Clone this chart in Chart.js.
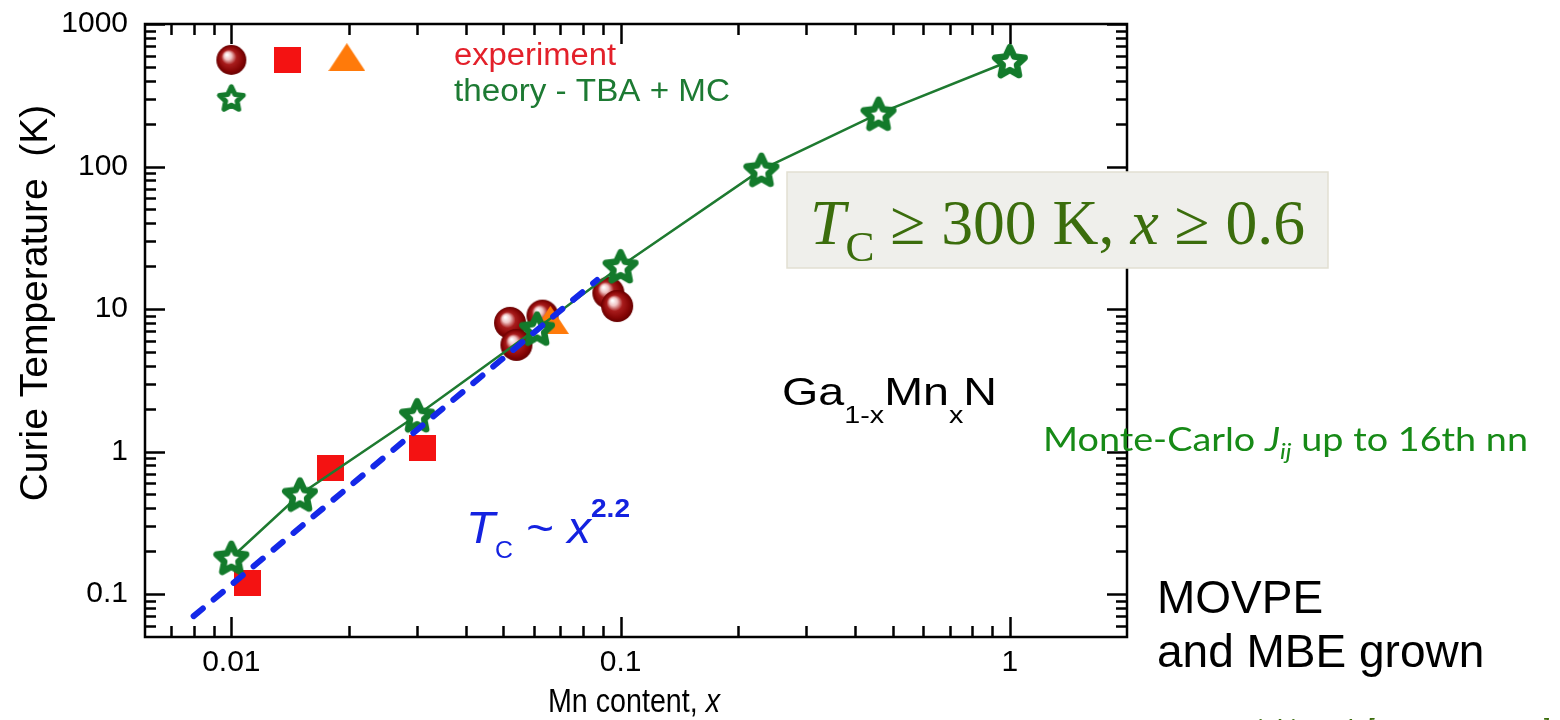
<!DOCTYPE html>
<html>
<head>
<meta charset="utf-8">
<script src="https://cdn.jsdelivr.net/npm/chart.js@4.4.0/dist/chart.umd.min.js"></script>
<style>
  html, body { margin: 0; padding: 0; background: #fff; }
  #wrap { position: relative; width: 1560px; height: 720px; }
</style>
</head>
<body>
<div id="wrap"><canvas id="tcChart" width="1560" height="720"></canvas></div>
<script>
// theory - TBA + MC : Mn content x, Curie temperature (K)
const theoryX = [0.01, 0.015, 0.03, 0.061, 0.1, 0.23, 0.46, 1.0];
const theoryY = [0.18, 0.5, 1.8, 7.3, 20, 95, 235, 550];

// experiment - squares
const squareX = [0.011, 0.018, 0.031];
const squareY = [0.12, 0.77, 1.06];

// experiment - spheres
const sphereX = [0.052, 0.054, 0.063, 0.093, 0.098];
const sphereY = [8.0, 5.6, 9.0, 13.0, 10.5];

// experiment - triangle
const triangleX = [0.066];
const triangleY = [8.4];

// Tc ~ x^2.2 guide (end points)
const fitX = [0.008, 0.087];
const fitY = [0.07, 16];

// legend symbols sit inside the plot, in data units
const legendSphere = [0.01, 560];
const legendSquare = [0.0139, 560];
const legendTriangle = [0.0198, 585];
const legendStar = [0.01, 303];

// axes
const xTickValues = [0.01, 0.1, 1];
const xTickLabels = ['0.01', '0.1', '1'];
const yTickValues = [0.1, 1, 10, 100, 1000];
const yTickLabels = ['0.1', '1', '10', '100', '1000'];

document.addEventListener('DOMContentLoaded', function() {
    const SANS = "'Liberation Sans', Arial, sans-serif";
    const SERIF = "'Liberation Serif', 'Times New Roman', serif";

    function pts(xs, ys) {
        return xs.map((x, i) => ({ x: x, y: ys[i] }));
    }

    // marker images
    function makeSphere(r) {
        const c = document.createElement('canvas');
        c.width = c.height = 2 * r + 2;
        const g = c.getContext('2d');
        const m = r + 1;
        const grad = g.createRadialGradient(m - r * 0.3, m - r * 0.35, r * 0.04, m, m, r);
        grad.addColorStop(0, '#ffffff');
        grad.addColorStop(0.22, '#f0c4c4');
        grad.addColorStop(0.48, '#a81c1c');
        grad.addColorStop(0.8, '#870606');
        grad.addColorStop(1, '#660000');
        g.fillStyle = grad;
        g.beginPath();
        g.arc(m, m, r, 0, Math.PI * 2);
        g.fill();
        return c;
    }

    function makeStar(R, lw) {
        const size = Math.ceil(2 * R + lw + 4);
        const c = document.createElement('canvas');
        c.width = c.height = size;
        const g = c.getContext('2d');
        const cx = size / 2, cy = size / 2 + R * 0.1;
        g.beginPath();
        for (let i = 0; i < 10; i++) {
            const a = -Math.PI / 2 + i * Math.PI / 5;
            const rr = i % 2 ? R * 0.48 : R;
            g.lineTo(cx + rr * Math.cos(a), cy + rr * Math.sin(a));
        }
        g.closePath();
        g.fillStyle = '#ffffff';
        g.fill();
        g.lineWidth = lw;
        g.lineJoin = 'round';
        g.strokeStyle = '#137a2b';
        g.stroke();
        return c;
    }

    function makeSquare(w, h) {
        const c = document.createElement('canvas');
        c.width = w; c.height = h;
        const g = c.getContext('2d');
        g.fillStyle = '#f41212';
        g.fillRect(0, 0, w, h);
        return c;
    }

    function makeTriangle(w, h) {
        const c = document.createElement('canvas');
        c.width = w; c.height = h;
        const g = c.getContext('2d');
        g.fillStyle = '#ff7a0a';
        g.beginPath();
        g.moveTo(w / 2, 0);
        g.lineTo(w, h);
        g.lineTo(0, h);
        g.closePath();
        g.fill();
        return c;
    }

    const starImg = makeStar(15.5, 6.5);
    const starLegendImg = makeStar(12.5, 5);
    const sphereImg = makeSphere(16);
    const legendSphereImg = makeSphere(15);
    const squareImg = makeSquare(27, 26);
    const triangleImg = makeTriangle(37, 28);

    // rich text: parts drawn left to right, optionally squeezed to a target width
    function drawRich(ctx, parts, x, y, targetW) {
        let w = 0;
        parts.forEach(p => { ctx.font = p.font; w += ctx.measureText(p.t).width; });
        const sx = targetW ? targetW / w : 1;
        ctx.save();
        ctx.translate(x, y);
        ctx.scale(sx, 1);
        ctx.textBaseline = 'alphabetic';
        ctx.textAlign = 'left';
        let cx = 0;
        parts.forEach(p => {
            ctx.font = p.font;
            ctx.fillStyle = p.color;
            ctx.fillText(p.t, cx, p.dy || 0);
            cx += ctx.measureText(p.t).width;
        });
        ctx.restore();
    }

    function minorValues(min, max, majors) {
        const out = [];
        for (let e = -4; e <= 4; e++) {
            for (let k = 2; k <= 9; k++) {
                const v = k * Math.pow(10, e);
                if (v > min * 1.0001 && v < max * 0.9999 && majors.indexOf(v) < 0) out.push(v);
            }
        }
        return out;
    }

    const frameAndNotes = {
        id: 'frameAndNotes',
        afterDraw(chart) {
            const ctx = chart.ctx;
            const a = chart.chartArea;
            const xs = chart.scales.x, ys = chart.scales.y;
            const MAJ = 20, MIN = 11;

            ctx.save();
            ctx.strokeStyle = '#000';
            ctx.lineWidth = 2.5;
            ctx.lineCap = 'butt';
            ctx.beginPath();
            // inward ticks on all four sides
            const xMinor = minorValues(xs.min, xs.max, xTickValues);
            const yMinor = minorValues(ys.min, ys.max, yTickValues);
            xTickValues.concat(xMinor).forEach(v => {
                const len = xTickValues.indexOf(v) >= 0 ? MAJ : MIN;
                const px = Math.round(xs.getPixelForValue(v)) + 0.5;
                ctx.moveTo(px, a.bottom); ctx.lineTo(px, a.bottom - len);
                ctx.moveTo(px, a.top); ctx.lineTo(px, a.top + len);
            });
            yTickValues.concat(yMinor).forEach(v => {
                const len = yTickValues.indexOf(v) >= 0 ? MAJ : MIN;
                const py = Math.round(ys.getPixelForValue(v)) + 0.5;
                ctx.moveTo(a.left, py); ctx.lineTo(a.left + len, py);
                ctx.moveTo(a.right, py); ctx.lineTo(a.right - len, py);
            });
            ctx.stroke();
            ctx.strokeRect(a.left, a.top, a.right - a.left, a.bottom - a.top);
            ctx.restore();

            // y axis title
            ctx.save();
            ctx.translate(36, 303);
            ctx.rotate(-Math.PI / 2);
            ctx.font = '39px ' + SANS;
            ctx.fillStyle = '#000';
            ctx.textAlign = 'center';
            ctx.textBaseline = 'middle';
            ctx.fillText('Curie Temperature  (K)', 0, 0);
            ctx.restore();

            // legend text
            drawRich(ctx, [{ t: 'experiment', font: '31px ' + SANS, color: '#e3202a' }], 454, 65, 162);
            drawRich(ctx, [{ t: 'theory - TBA + MC', font: '31px ' + SANS, color: '#1d7a33' }], 454, 101, 276);

            // Ga(1-x)Mn(x)N
            drawRich(ctx, [
                { t: 'Ga', font: '39px ' + SANS, color: '#000' },
                { t: '1-x', font: '24px ' + SANS, color: '#000', dy: 18 },
                { t: 'Mn', font: '39px ' + SANS, color: '#000' },
                { t: 'x', font: '24px ' + SANS, color: '#000', dy: 18 },
                { t: 'N', font: '39px ' + SANS, color: '#000' }
            ], 782, 405, 215);

            // Tc ~ x^2.2
            drawRich(ctx, [
                { t: 'T', font: 'italic 44px ' + SANS, color: '#1422e0' },
                { t: 'C', font: '23px ' + SANS, color: '#1422e0', dy: 15 },
                { t: ' ~ ', font: '44px ' + SANS, color: '#1422e0' },
                { t: 'x', font: 'italic 44px ' + SANS, color: '#1422e0' },
                { t: '2.2', font: 'bold 26px ' + SANS, color: '#1422e0', dy: -26 }
            ], 466, 543, 164);

            // x axis title
            drawRich(ctx, [
                { t: 'Mn content, ', font: '34px ' + SANS, color: '#000' },
                { t: 'x', font: 'italic 34px ' + SANS, color: '#000' }
            ], 548, 712, 172);

            // highlighted box
            ctx.save();
            ctx.fillStyle = '#efefeb';
            ctx.strokeStyle = '#e2dfd2';
            ctx.lineWidth = 1.5;
            ctx.fillRect(787, 172, 541, 96);
            ctx.strokeRect(787, 172, 541, 96);
            ctx.restore();
            const olive = '#3b6d0c';
            drawRich(ctx, [
                { t: 'T', font: 'italic 63px ' + SERIF, color: olive },
                { t: 'C', font: '43px ' + SERIF, color: olive, dy: 17 },
                { t: ' \u2265 300 K, ', font: '63px ' + SERIF, color: olive },
                { t: 'x', font: 'italic 63px ' + SERIF, color: olive },
                { t: ' \u2265 0.6', font: '63px ' + SERIF, color: olive }
            ], 810, 244, 495);

            // slide notes
            drawRich(ctx, [
                { t: 'Monte-Carlo ', font: '33px Lato, sans-serif', color: '#178a17' },
                { t: 'J', font: 'italic 33px Lato, sans-serif', color: '#178a17' },
                { t: 'ij', font: 'italic 22px Lato, sans-serif', color: '#178a17', dy: 8 },
                { t: ' up to 16th nn', font: '33px Lato, sans-serif', color: '#178a17' }
            ], 1043, 451, 485);

            drawRich(ctx, [{ t: 'MOVPE', font: '46px ' + SANS, color: '#000' }], 1157, 613);
            drawRich(ctx, [{ t: 'and MBE grown', font: '46px ' + SANS, color: '#000' }], 1157, 667);
            drawRich(ctx, [{ t: 'M. Sawicki et al. [Warsaw group]', font: 'italic 30px Lato, sans-serif', color: '#3b6d0c' }], 1170, 742, 380);
        }
    };

    const ctx = document.getElementById('tcChart').getContext('2d');

    new Chart(ctx, {
        type: 'scatter',
        data: {
            datasets: [
                {
                    label: 'Tc ~ x^2.2',
                    data: pts(fitX, fitY),
                    showLine: true,
                    borderColor: '#1428e8',
                    borderWidth: 6,
                    borderDash: [12, 14],
                    borderCapStyle: 'round',
                    pointRadius: 0,
                    order: 0
                },
                {
                    label: 'theory - TBA + MC',
                    data: pts(theoryX, theoryY),
                    showLine: true,
                    borderColor: '#1e7a30',
                    borderWidth: 2.5,
                    pointStyle: starImg,
                    pointRadius: 16,
                    order: 1
                },
                {
                    label: 'experiment triangle',
                    data: pts(triangleX, triangleY),
                    pointStyle: triangleImg,
                    pointRadius: 15,
                    order: 2
                },
                {
                    label: 'experiment spheres',
                    data: pts(sphereX, sphereY),
                    pointStyle: sphereImg,
                    pointRadius: 16,
                    order: 3
                },
                {
                    label: 'experiment squares',
                    data: pts(squareX, squareY),
                    pointStyle: squareImg,
                    pointRadius: 13,
                    order: 4
                },
                {
                    label: 'legend sphere',
                    data: [{ x: legendSphere[0], y: legendSphere[1] }],
                    pointStyle: legendSphereImg,
                    order: 5
                },
                {
                    label: 'legend square',
                    data: [{ x: legendSquare[0], y: legendSquare[1] }],
                    pointStyle: squareImg,
                    order: 5
                },
                {
                    label: 'legend triangle',
                    data: [{ x: legendTriangle[0], y: legendTriangle[1] }],
                    pointStyle: triangleImg,
                    order: 5
                },
                {
                    label: 'legend star',
                    data: [{ x: legendStar[0], y: legendStar[1] }],
                    pointStyle: starLegendImg,
                    order: 5
                }
            ]
        },
        options: {
            responsive: false,
            animation: false,
            clip: false,
            layout: {
                padding: { left: 0, top: 24, right: 433, bottom: 0 }
            },
            plugins: {
                legend: { display: false },
                tooltip: { enabled: false }
            },
            scales: {
                x: {
                    type: 'logarithmic',
                    min: 0.006,
                    max: 2,
                    afterBuildTicks: function(scale) {
                        scale.ticks = xTickValues.map(v => ({ value: v }));
                    },
                    afterFit: function(scale) {
                        scale.height = 83;
                        scale.paddingLeft = 0;
                        scale.paddingRight = 0;
                    },
                    grid: { display: false, drawTicks: false },
                    border: { display: false },
                    ticks: {
                        autoSkip: false,
                        maxRotation: 0,
                        padding: 8,
                        color: '#000',
                        font: { size: 30, family: SANS },
                        callback: function(value, index) {
                            return xTickLabels[index];
                        }
                    }
                },
                y: {
                    type: 'logarithmic',
                    min: 0.05,
                    max: 1000,
                    afterBuildTicks: function(scale) {
                        scale.ticks = yTickValues.map(v => ({ value: v }));
                    },
                    afterFit: function(scale) {
                        scale.width = 145;
                        scale.paddingTop = 0;
                        scale.paddingBottom = 0;
                    },
                    grid: { display: false, drawTicks: false },
                    border: { display: false },
                    ticks: {
                        autoSkip: false,
                        padding: 17,
                        color: '#000',
                        font: { size: 30, family: SANS },
                        callback: function(value, index) {
                            return yTickLabels[index];
                        }
                    }
                }
            }
        },
        plugins: [frameAndNotes]
    });
});
</script>
</body>
</html>
